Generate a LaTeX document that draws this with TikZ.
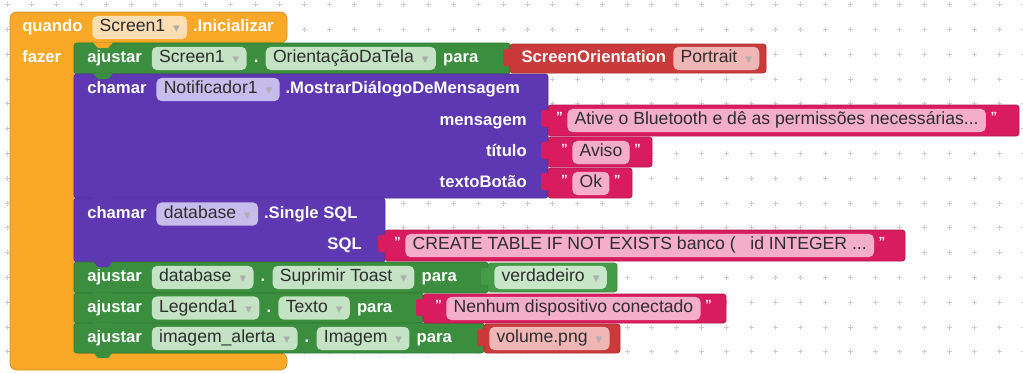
\documentclass[tikz,border=0pt]{standalone}
\usepackage{fontspec}
\setmainfont{Liberation Sans}
\newfontfamily\symfont{DejaVu Sans}
\usetikzlibrary{positioning}

\definecolor{ctrl}{RGB}{250,168,40}
\definecolor{ctrlfld}{RGB}{254,222,178}
\definecolor{setter}{RGB}{58,142,62}
\definecolor{setfld}{RGB}{196,226,196}
\definecolor{method}{RGB}{94,56,178}
\definecolor{methfld}{RGB}{200,188,236}
\definecolor{helper}{RGB}{202,58,58}
\definecolor{helpfld}{RGB}{240,182,182}
\definecolor{textc}{RGB}{216,28,94}
\definecolor{txtfld}{RGB}{244,174,200}
\definecolor{logic}{RGB}{70,156,70}
\definecolor{logfld}{RGB}{200,230,200}
\definecolor{fldtext}{RGB}{45,45,45}
\definecolor{ddgray}{RGB}{175,175,175}
\definecolor{gridc}{RGB}{205,205,205}

\newcommand{\lblsize}{\fontsize{12.5}{14}\selectfont}
\newcommand{\fldsize}{\fontsize{13.2}{15}\selectfont}
\newcommand{\dd}{\hspace{6pt}{\symfont\color{ddgray}\fontsize{6.5}{7}\selectfont▼}}
% value block with its output tab: colour, left, top, right, bottom
\newcommand{\valblk}[5]{%
  \draw[blk=#1] (#2,#3) rectangle (#4,#5);
  \fill[#1,rounded corners=1.5pt] (#2+1,#3+5) -- (#2-7,#3+5) -- (#2-7,#3+22) -- (#2+1,#3+22) -- cycle;}

\begin{document}
\begin{tikzpicture}[x=0.75pt,y=-0.75pt,
  lbl/.style={text=white,font=\bfseries\lblsize,inner sep=0pt,text height=9.4pt,text depth=2.8pt},
  fld/.style={fill=#1,text=fldtext,font=\fldsize,rounded corners=4pt,inner xsep=5.5pt,inner ysep=0pt,
              text height=9.4pt,text depth=2.8pt,minimum height=17.5pt},
  quot/.style={text=white,font=\bfseries\fontsize{10}{10}\selectfont,inner sep=0pt},
  blk/.style={fill=#1,draw=#1!85!black,line width=0.5pt,rounded corners=2pt}]
  \useasboundingbox (0,0) rectangle (1023,372);
  \fill[white] (0,0) rectangle (1023,372);

  % workspace grid
  \foreach \i in {0,...,41}
    \foreach \j in {0,...,15}
      \draw[gridc,line width=0.7pt] ({7+24.8*\i},{4.6+24.8*\j}) +(-2.5,0) -- +(2.5,0) +(0,-2.5) -- +(0,2.5);

  % event block
  \draw[blk=ctrl,rounded corners=5pt] (10,12) -- (287,12) -- (287,43) -- (74,43) -- (74,353)
        -- (287,353) -- (287,370) -- (10,370) -- cycle;

  % statement blocks
  \draw[blk=setter] (74,43) rectangle (510,74);
  \draw[blk=method] (74,74) rectangle (548,198);
  \draw[blk=method] (74,198) rectangle (385,262);
  \draw[blk=setter] (74,262) rectangle (488,293);
  \draw[blk=setter] (74,293) rectangle (423,323);
  \draw[blk=setter] (74,323) rectangle (484,353);
  \foreach \by/\bc in {43/ctrl,74/setter,198/method,262/method,293/setter,323/setter,353/setter}
    \fill[\bc] (93,\by-0.6) -- (113,\by-0.6) -- (108,\by+5) -- (98,\by+5) -- cycle;

  % value blocks
  \valblk{helper}{510}{44}{766}{73}
  \valblk{textc}{548}{105}{1019}{136}
  \valblk{textc}{548}{137}{652}{167}
  \valblk{textc}{548}{168}{632}{198}
  \valblk{textc}{385}{230}{905}{261}
  \valblk{logic}{488}{263}{617}{292}
  \valblk{textc}{423}{294}{726}{323}
  \valblk{helper}{484}{324}{620}{353}

  % quando Screen1.Inicializar
  \node[lbl,anchor=west] (quando) at (22,27.5) {quando};
  \node[fld=ctrlfld,right=7pt of quando] (scrA) {Screen1\dd};
  \node[lbl,right=4pt of scrA] (init) {.Inicializar};
  \node[lbl,anchor=west] (fazer) at (22,58.5) {fazer};

  % ajustar Screen1.OrientacaoDaTela
  \node[lbl,anchor=west] (aj1) at (87,58.5) {ajustar};
  \node[fld=setfld,right=7pt of aj1] (cmp1) {Screen1\dd};
  \node[lbl,right=5pt of cmp1] (dot1) {.};
  \node[fld=setfld,right=5pt of dot1] (prop1) {OrientaçãoDaTela\dd};
  \node[lbl,right=5pt of prop1] (para1) {para};
  \coordinate (so) at (510,58.5);
  \node[lbl,right=8.5pt of so] (orient) {ScreenOrientation};
  \node[fld=helpfld,right=5pt of orient] (portrait) {Portrait\dd};

  % chamar Notificador1
  \node[lbl,anchor=west] (ch1) at (87,89.5) {chamar};
  \node[fld=methfld,right=7pt of ch1] (notif) {Notificador1\dd};
  \node[lbl,right=4pt of notif] (mostrar) {.MostrarDiálogoDeMensagem};
  \node[lbl,anchor=east] (msg) at (527,121) {mensagem};
  \node[lbl,anchor=east] (tit) at (527,152.5) {título};
  \node[lbl,anchor=east] (btn) at (527,183.5) {textoBotão};

  \node[fld=txtfld,anchor=west] (msgtxt) at (567,120.5) {Ative o Bluetooth e dê as permissões necessárias...};
  \node[quot,left=3pt of msgtxt,yshift=3pt] (msgL) {"};
  \node[quot,right=3pt of msgtxt,yshift=3pt] (msgR) {"};
  \node[fld=txtfld,anchor=west] (avtxt) at (572,152.5) {Aviso};
  \node[quot,left=3pt of avtxt,yshift=3pt] (avL) {"};
  \node[quot,right=3pt of avtxt,yshift=3pt] (avR) {"};
  \node[fld=txtfld,anchor=west] (oktxt) at (572,183.5) {Ok};
  \node[quot,left=3pt of oktxt,yshift=3pt] (okL) {"};
  \node[quot,right=3pt of oktxt,yshift=3pt] (okR) {"};

  % chamar database.Single SQL
  \node[lbl,anchor=west] (ch2) at (87,214) {chamar};
  \node[fld=methfld,right=7pt of ch2] (db1) {database\dd};
  \node[lbl,right=4pt of db1] (single) {.Single SQL};
  \node[lbl,anchor=east] (sql) at (362,245) {SQL};
  \node[fld=txtfld,anchor=west] (sqltxt) at (405,245.5) {CREATE TABLE IF NOT EXISTS banco (\ \ \ id INTEGER ...};
  \node[quot,left=3pt of sqltxt,yshift=3pt] (sqlL) {"};
  \node[quot,right=3pt of sqltxt,yshift=3pt] (sqlR) {"};

  % ajustar database.Suprimir Toast
  \node[lbl,anchor=west] (aj2) at (87,277.5) {ajustar};
  \node[fld=setfld,right=7pt of aj2] (db2) {database\dd};
  \node[lbl,right=5pt of db2] (dot2) {.};
  \node[fld=setfld,right=5pt of dot2] (prop2) {Suprimir Toast\dd};
  \node[lbl,right=5pt of prop2] (para2) {para};
  \node[fld=logfld,anchor=west] (verd) at (494,277.5) {verdadeiro\dd};

  % ajustar Legenda1.Texto
  \node[lbl,anchor=west] (aj3) at (87,308) {ajustar};
  \node[fld=setfld,right=7pt of aj3] (leg) {Legenda1\dd};
  \node[lbl,right=5pt of leg] (dot3) {.};
  \node[fld=setfld,right=5pt of dot3] (prop3) {Texto\dd};
  \node[lbl,right=5pt of prop3] (para3) {para};
  \node[fld=txtfld,anchor=west] (nenhum) at (446,308.5) {Nenhum dispositivo conectado};
  \node[quot,left=3pt of nenhum,yshift=3pt] (nenL) {"};
  \node[quot,right=3pt of nenhum,yshift=3pt] (nenR) {"};

  % ajustar imagem_alerta.Imagem
  \node[lbl,anchor=west] (aj4) at (87,338.5) {ajustar};
  \node[fld=setfld,right=7pt of aj4] (img) {imagem\_alerta\dd};
  \node[lbl,right=5pt of img] (dot4) {.};
  \node[fld=setfld,right=5pt of dot4] (prop4) {Imagem\dd};
  \node[lbl,right=5pt of prop4] (para4) {para};
  \node[fld=helpfld,anchor=west] (vol) at (489,338.5) {volume.png\dd};
\end{tikzpicture}
\end{document}
